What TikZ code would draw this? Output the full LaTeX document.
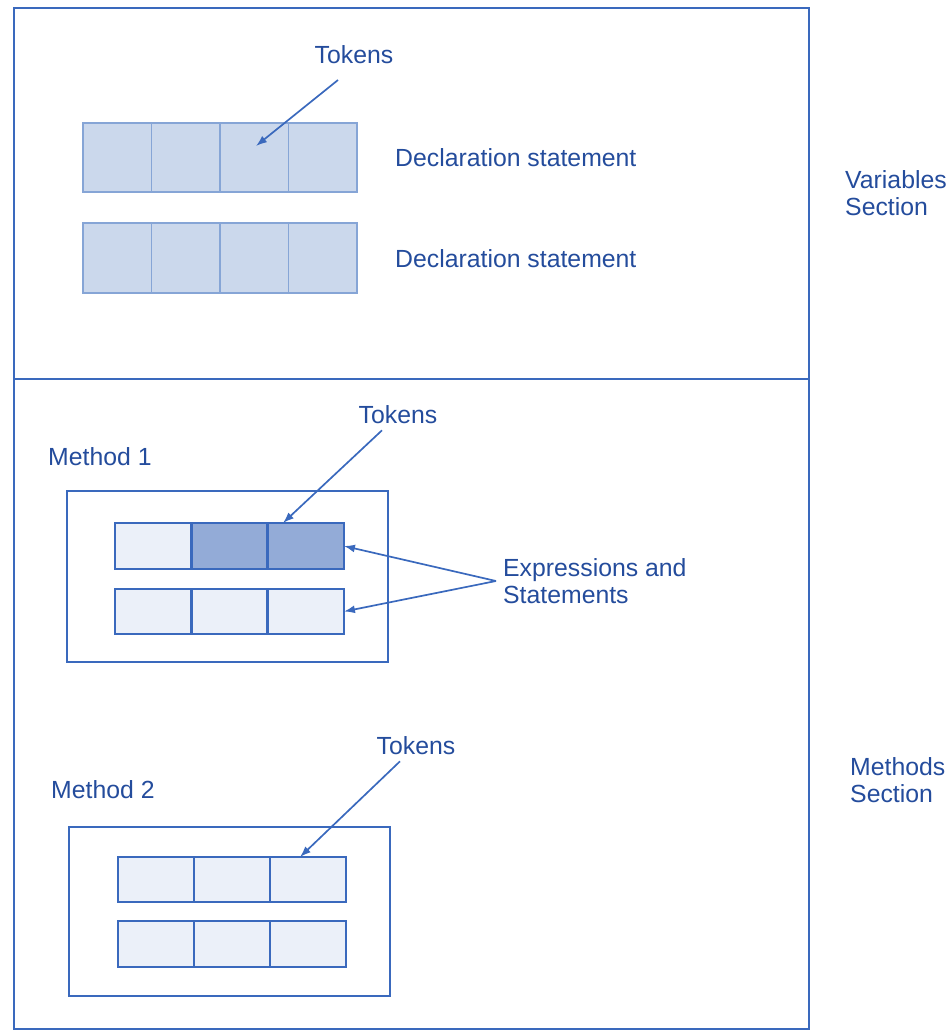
\documentclass[tikz,border=0pt]{standalone}
\usepackage{fontspec}
\setmainfont{Liberation Sans}
\usetikzlibrary{arrows.meta}
\definecolor{ln}{HTML}{3A69BD}
\definecolor{tx}{HTML}{244C9C}
\definecolor{lightcell}{HTML}{CBD8EC}
\definecolor{lightedge}{HTML}{86A5D6}
\definecolor{darkcell}{HTML}{93ABD7}
\definecolor{paleCell}{HTML}{EBF0F9}
\tikzset{
  lbl/.style={text=tx, font=\fontsize{24.8}{27}\selectfont, inner sep=0pt, align=left},
  topcell/.style={draw=lightedge, fill=lightcell, line width=1.8pt, inner sep=0pt, outer sep=0pt},
  mcell/.style={draw=ln, fill=paleCell, line width=2.8pt, inner sep=0pt, outer sep=0pt},
  mdark/.style={mcell, fill=darkcell},
  mbox/.style={draw=ln, line width=1.8pt, inner sep=0pt, outer sep=0pt},
  arr/.style={draw=ln, line width=1.7pt, -{Latex[length=11pt,width=8pt]}}
}
\begin{document}
\begin{tikzpicture}[x=1pt,y=-1pt]
\useasboundingbox (0,0) rectangle (949,1031);
% outer frame
\draw[ln, line width=1.5pt] (14,8) rectangle (809,1029);
\draw[ln, line width=1.5pt] (14,379) -- (809,379);

% Variables section cells
\foreach \i/\x in {1/117.25,2/185.75,3/254.25,4/322.75}{
  \node[topcell, minimum width=68.5pt, minimum height=69pt] (v1\i) at (\x,157.5) {};
  \node[topcell, minimum width=68.5pt, minimum height=70pt] (v2\i) at (\x,258) {};
}
\node[lbl] (tok1) at (354,55) {Tokens};
\coordinate (tok1end) at (256,146);
\draw[arr] (338,80) coordinate (tok1start) -- (tok1end);
\node[lbl, anchor=west] (decl1) at (395,158) {Declaration statement};
\node[lbl, anchor=west] (decl2) at (395,259) {Declaration statement};
\node[lbl, anchor=west] (varsec) at (845,193.5) {Variables\\Section};

% Method 1
\node[lbl, anchor=west] (m1lbl) at (48,457) {Method 1};
\node[mbox, minimum width=321pt, minimum height=171pt] (m1box) at (227.5,576.5) {};
\node[mcell, minimum width=76.3pt, minimum height=46pt] (m1a1) at (153.2,546) {};
\node[mdark, minimum width=76.3pt, minimum height=46pt] (m1a2) at (229.5,546) {};
\node[mdark, minimum width=76.3pt, minimum height=46pt] (m1a3) at (305.8,546) {};
\node[mcell, minimum width=76.3pt, minimum height=45pt] (m1b1) at (153.2,611.5) {};
\node[mcell, minimum width=76.3pt, minimum height=45pt] (m1b2) at (229.5,611.5) {};
\node[mcell, minimum width=76.3pt, minimum height=45pt] (m1b3) at (305.8,611.5) {};
\node[lbl] (tok2) at (398,415) {Tokens};
\draw[arr] (tok2.south)++(-16,6) -- (m1a3.north -| 283,0);
\node[lbl, anchor=west] (expr) at (503,581.5) {Expressions and\\Statements};
\coordinate (apex) at (496,581);
\draw[arr] (apex) -- (m1a3.east);
\draw[arr] (apex) -- (m1b3.east);

% Method 2
\node[lbl, anchor=west] (m2lbl) at (51,790) {Method 2};
\node[mbox, minimum width=321pt, minimum height=169pt] (m2box) at (229.5,911.5) {};
\foreach \i/\x in {1/156,2/232,3/308}{
  \node[mcell, minimum width=76pt, minimum height=45pt] (m2a\i) at (\x,879.5) {};
  \node[mcell, minimum width=76pt, minimum height=46pt] (m2b\i) at (\x,944) {};
}
\node[lbl] (tok3) at (416,746) {Tokens};
\draw[arr] (tok3.south)++(-16,6) -- (m2a3.north -| 300,0);
\node[lbl, anchor=west] (methsec) at (850,780.5) {Methods\\Section};
\end{tikzpicture}
\end{document}
